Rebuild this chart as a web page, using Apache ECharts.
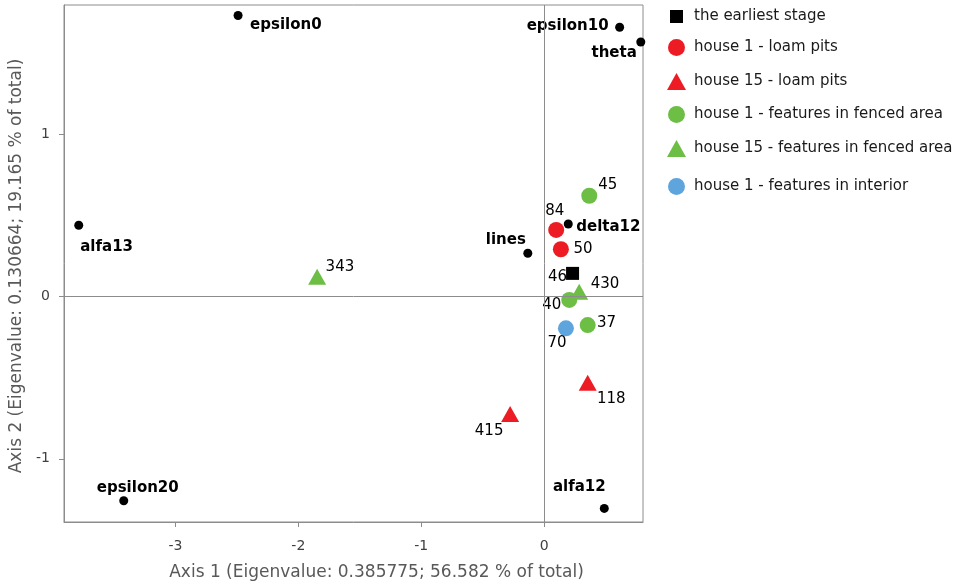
<!DOCTYPE html>
<html>
<head>
<meta charset="utf-8">
<script src="https://cdn.jsdelivr.net/npm/echarts@6/dist/echarts.min.js"></script>
<style>
html,body{margin:0;padding:0;background:#fff;}
#chart{width:956px;height:587px;}
</style>
</head>
<body>
<div id="chart"></div>
<script>
// ---- data ----
const varNames = ['epsilon0', 'epsilon10', 'theta', 'alfa13', 'lines', 'delta12', 'epsilon20', 'alfa12'];
const varX = [-2.49, 0.614, 0.786, -3.786, -0.133, 0.196, -3.42, 0.489];
const varY = [1.735, 1.663, 1.572, 0.441, 0.268, 0.449, -1.259, -1.306];

const earliestNames = ['46'];
const earliestX = [0.231];
const earliestY = [0.144];

const h1LoamNames = ['84', '50'];
const h1LoamX = [0.098, 0.136];
const h1LoamY = [0.412, 0.293];

const h15LoamNames = ['118', '415'];
const h15LoamX = [0.354, -0.277];
const h15LoamY = [-0.531, -0.724];

const h1FencedNames = ['45', '40', '37'];
const h1FencedX = [0.367, 0.204, 0.354];
const h1FencedY = [0.623, -0.020, -0.175];

const h15FencedNames = ['430', '343'];
const h15FencedX = [0.285, -1.847];
const h15FencedY = [0.031, 0.123];

const h1InteriorNames = ['70'];
const h1InteriorX = [0.177];
const h1InteriorY = [-0.195];

const seriesNames = ['the earliest stage', 'house 1 - loam pits', 'house 15 - loam pits',
  'house 1 - features in fenced area', 'house 15 - features in fenced area', 'house 1 - features in interior'];

const xTicks = [-3, -2, -1, 0];
const yTicks = [-1, 0, 1];
const xAxisTitle = 'Axis 1 (Eigenvalue: 0.385775; 56.582 % of total)';
const yAxisTitle = 'Axis 2 (Eigenvalue: 0.130664; 19.165 % of total)';

// ---- label placement (style only) ----
const labelPlace = {
  'epsilon0': ['left', 12, 10], 'epsilon10': ['right', -11, -1], 'theta': ['right', -4, 11],
  'alfa13': ['left', 1.5, 22], 'lines': ['right', -2, -13], 'delta12': ['left', 8, 3],
  'epsilon20': ['center', 14, -13], 'alfa12': ['center', -25, -21],
  '46': ['right', -5.5, 4], '84': ['center', -1.5, -19], '50': ['left', 12.5, 0],
  '45': ['left', 9, -10.5], '430': ['left', 11.5, -7.5], '40': ['right', -8, 5],
  '37': ['left', 9.3, -1.7], '70': ['center', -9, 15], '118': ['left', 9.3, 16.6],
  '415': ['center', -21, 16.7], '343': ['left', 8.5, -9.7]
};

const FONT = 'DejaVu Sans';

function pts(names, xs, ys, bold) {
  return names.map((n, i) => {
    const p = labelPlace[n];
    return {
      name: n,
      value: [xs[i], ys[i]],
      label: {
        show: true, position: 'inside', formatter: n,
        align: p[0], verticalAlign: 'middle', offset: [p[1], p[2]],
        color: '#000', opacity: 1, fontFamily: FONT, fontSize: 15,
        fontWeight: bold ? 'bold' : 'normal'
      }
    };
  });
}

const RED = '#ED1C24', GREEN = '#6CBE45', BLUE = '#5EA5DE';

function sc(name, symbol, size, color, data, z) {
  return {
    name: name, type: 'scatter', symbol: symbol, symbolSize: size, z: z || 2,
    itemStyle: { color: color, opacity: 1 },
    emphasis: { disabled: true },
    data: data
  };
}

const series = [
  Object.assign(sc('variables', 'circle', 9, '#000', pts(varNames, varX, varY, true), 3), {
    markLine: {
      silent: true, symbol: 'none', label: { show: false },
      lineStyle: { color: '#8c8c8c', width: 1, type: 'solid', opacity: 1 },
      emphasis: { disabled: true },
      data: [{ xAxis: 0 }, { yAxis: 0 }]
    }
  }),
  sc(seriesNames[0], 'rect', 13, '#000', pts(earliestNames, earliestX, earliestY, false)),
  sc(seriesNames[1], 'circle', 16, RED, pts(h1LoamNames, h1LoamX, h1LoamY, false)),
  sc(seriesNames[2], 'triangle', [18, 16], RED, pts(h15LoamNames, h15LoamX, h15LoamY, false)),
  sc(seriesNames[3], 'circle', 16, GREEN, pts(h1FencedNames, h1FencedX, h1FencedY, false)),
  sc(seriesNames[4], 'triangle', [18, 16], GREEN, pts(h15FencedNames, h15FencedX, h15FencedY, false)),
  sc(seriesNames[5], 'circle', 16, BLUE, pts(h1InteriorNames, h1InteriorX, h1InteriorY, false))
];

const legendTops = [7, 39, 73, 106, 140, 178];
const legendIcon = ['rect', 'circle', 'triangle', 'circle', 'triangle', 'circle'];
const legendSize = [[13, 13], [17, 17], [19, 17], [17, 17], [19, 17], [17, 17]];
const legends = seriesNames.map((n, i) => ({
  data: [{ name: n, icon: legendIcon[i] }],
  left: 672 - (legendSize[i][0] - 13) / 2 - 2, top: legendTops[i] + (17 - legendSize[i][1]) / 2,
  itemWidth: legendSize[i][0], itemHeight: legendSize[i][1], itemGap: 0, padding: 0,
  selectedMode: false,
  itemStyle: { opacity: 1 },
  textStyle: { fontFamily: FONT, fontSize: 15, color: '#1a1a1a', padding: [0, 0, 0, 4 - (legendSize[i][0] - 13) / 2 + 2] }
}));

const chart = echarts.init(document.getElementById('chart'), null, { renderer: 'canvas' });
chart.setOption({
  animation: false,
  backgroundColor: '#fff',
  legend: legends,
  grid: { left: 64, right: 313, top: 5, bottom: 65, show: true, borderColor: '#8c8c8c', borderWidth: 1 },
  xAxis: {
    type: 'value', min: -3.906, max: 0.804,
    splitLine: { show: false },
    axisLine: { show: true, onZero: false, lineStyle: { color: '#8c8c8c' } },
    axisTick: { show: true, length: 5, customValues: xTicks, lineStyle: { color: '#8c8c8c' } },
    axisLabel: { customValues: xTicks, margin: 17, fontFamily: FONT, fontSize: 14, color: '#404040' },
    name: xAxisTitle, nameLocation: 'middle', nameGap: 42,
    nameTextStyle: { fontFamily: FONT, fontSize: 17, color: '#595959', padding: [0, 0, 0, 46] }
  },
  yAxis: {
    type: 'value', min: -1.39, max: 1.80,
    splitLine: { show: false },
    axisLine: { show: true, onZero: false, lineStyle: { color: '#8c8c8c' } },
    axisTick: { show: true, length: 5, customValues: yTicks, lineStyle: { color: '#8c8c8c' } },
    axisLabel: { customValues: yTicks, margin: 14, fontFamily: FONT, fontSize: 14, color: '#404040' },
    name: yAxisTitle, nameLocation: 'middle', nameGap: 39, nameRotate: 90,
    nameTextStyle: { fontFamily: FONT, fontSize: 17, color: '#595959', padding: [0, 5, 0, 0] }
  },
  series: series
});
</script>
</body>
</html>
